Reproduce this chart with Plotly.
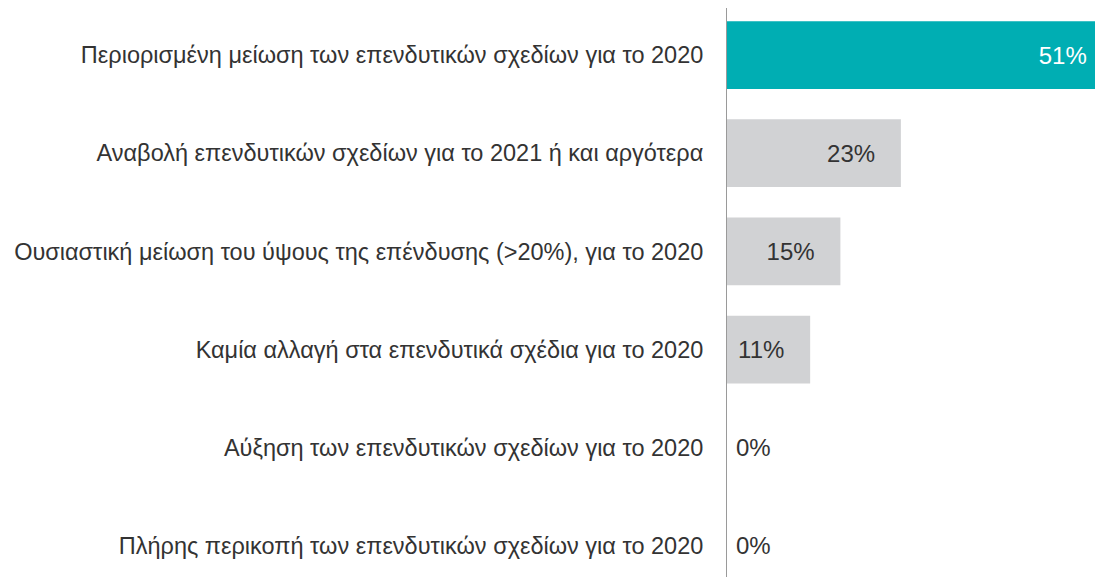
import plotly.graph_objects as go

categories = [
    "Περιορισμένη μείωση των επενδυτικών σχεδίων για το 2020",
    "Αναβολή επενδυτικών σχεδίων για το 2021 ή και αργότερα",
    "Ουσιαστική μείωση του ύψους της επένδυσης (>20%), για το 2020",
    "Καμία αλλαγή στα επενδυτικά σχέδια για το 2020",
    "Αύξηση των επενδυτικών σχεδίων για το 2020",
    "Πλήρης περικοπή των επενδυτικών σχεδίων για το 2020",
]
values = [51, 23, 15, 11, 0, 0]
bar_colors = ["#00AEB3", "#D1D2D4", "#D1D2D4", "#D1D2D4", "#D1D2D4", "#D1D2D4"]
text_colors = ["#FFFFFF", "#333333", "#333333", "#333333", "#333333", "#333333"]

end_pad = "\u2002\u2005\u2009"
start_pad = "\u2005"
labels = [(f"{v}%" + end_pad) if v > 0 else (start_pad + f"{v}%") for v in values]

FONT = "Liberation Sans, Arial, sans-serif"

fig = go.Figure(
    go.Bar(
        x=values,
        y=categories,
        orientation="h",
        marker=dict(color=bar_colors, line=dict(width=0)),
        width=0.69,
        text=labels,
        textposition=["inside" if v > 0 else "outside" for v in values],
        insidetextanchor="end",
        textangle=0,
        textfont=dict(color=text_colors, size=24, family=FONT),
        constraintext="none",
        cliponaxis=True,
        hoverinfo="skip",
    )
)

fig.update_layout(
    width=1095,
    height=569,
    margin=dict(l=719, r=0, t=0, b=0, autoexpand=False),
    paper_bgcolor="white",
    plot_bgcolor="white",
    showlegend=False,
    xaxis=dict(range=[0, 376 / 7.56], visible=False, fixedrange=True, automargin=False),
    yaxis=dict(
        type="category",
        categoryorder="array",
        categoryarray=categories,
        range=[5.316, -0.479],
        automargin=False,
        showline=True,
        linecolor="#9A9A9A",
        linewidth=1,
        showgrid=False,
        zeroline=False,
        ticks="",
        ticklabelstandoff=18,
        tickfont=dict(size=23.5, color="#333333", family=FONT),
    ),
)

fig.write_html("out.html")
